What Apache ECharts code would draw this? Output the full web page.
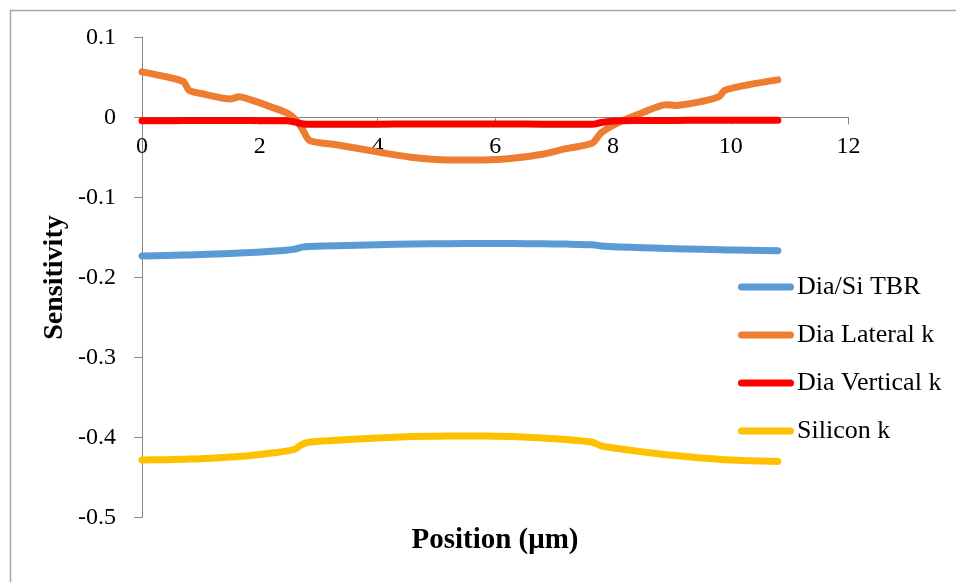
<!DOCTYPE html>
<html>
<head>
<meta charset="utf-8">
<script src="https://cdn.jsdelivr.net/npm/echarts@6/dist/echarts.min.js"></script>
<style>
  html, body { margin: 0; padding: 0; background: #fff; }
  #chart { width: 956px; height: 582px; }
</style>
</head>
<body>
<div id="chart"></div>
<script>
// Sample positions along the line (µm)
const positions = [0, 0.4, 0.7, 0.8, 1.0, 1.5, 1.65, 1.85, 2.2, 2.45, 2.6, 2.72, 2.85, 3.3, 4.0, 4.6,
  5.2, 5.8, 6.3, 6.8, 7.2, 7.65, 7.8, 8.1, 8.5, 8.9, 9.05, 9.5, 9.8, 9.9, 10.3, 10.8];

const seriesNames = ['Dia/Si TBR', 'Dia Lateral k', 'Dia Vertical k', 'Silicon k'];

const diaSiTBR = [-0.173, -0.1725, -0.172, -0.1718, -0.1713, -0.170, -0.1695, -0.1688, -0.1672, -0.1658,
  -0.1645, -0.162, -0.1612, -0.1603, -0.159, -0.1582, -0.1577, -0.1575, -0.1576, -0.1578, -0.1582,
  -0.159, -0.1605, -0.1618, -0.1628, -0.1637, -0.164, -0.1648, -0.1653, -0.1655, -0.166, -0.1665];

const diaLateralK = [0.057, 0.051, 0.045, 0.034, 0.030, 0.023, 0.026, 0.022, 0.013, 0.006,
  -0.002, -0.014, -0.029, -0.034, -0.043, -0.050, -0.053, -0.053, -0.051, -0.046, -0.039,
  -0.032, -0.019, -0.006, 0.006, 0.016, 0.015, 0.020, 0.026, 0.034, 0.041, 0.047];

const diaVerticalK = [-0.0040, -0.0040, -0.0039, -0.0039, -0.0039, -0.0038, -0.0038, -0.0039, -0.0040, -0.0042,
  -0.0058, -0.0078, -0.0085, -0.0084, -0.0083, -0.0082, -0.0082, -0.0082, -0.0082, -0.0083, -0.0084,
  -0.0085, -0.0062, -0.0042, -0.0038, -0.0036, -0.0036, -0.0035, -0.0035, -0.0035, -0.0035, -0.0035];

const siliconK = [-0.428, -0.4277, -0.4272, -0.427, -0.4265, -0.4245, -0.4238, -0.4225, -0.4195, -0.417,
  -0.4145, -0.4085, -0.4055, -0.4035, -0.4005, -0.3988, -0.398, -0.398, -0.3988, -0.4005, -0.4025,
  -0.406, -0.4105, -0.414, -0.418, -0.4215, -0.4225, -0.4255, -0.4272, -0.4278, -0.429, -0.430];

const xTicks = { min: 0, max: 12, interval: 2 };
const yTicks = { min: -0.5, max: 0.1, interval: 0.1 };

const colors = ['#5B9BD5', '#ED7D31', '#FF0000', '#FFC000'];
const values = [diaSiTBR, diaLateralK, diaVerticalK, siliconK];

const serif = '"Liberation Serif", "Times New Roman", serif';
const axisGray = '#868686';

// plot box in pixels
const plot = { left: 142, top: 37.5, right: 107.5, bottom: 64.5 };
const plotHeight = 582 - plot.top - plot.bottom;
// the horizontal axis sits where y = 0
const zeroOffset = -plotHeight * (0 - yTicks.min) / (yTicks.max - yTicks.min);

const chart = echarts.init(document.getElementById('chart'), null, { renderer: 'canvas' });

chart.setOption({
  animation: false,
  backgroundColor: '#ffffff',
  color: colors,
  grid: { left: plot.left, top: plot.top, right: plot.right, bottom: plot.bottom, containLabel: false },
  xAxis: {
    type: 'value',
    position: 'bottom',
    offset: zeroOffset,
    min: xTicks.min, max: xTicks.max, interval: xTicks.interval,
    axisLine: { onZero: false, lineStyle: { color: axisGray, width: 1 } },
    axisTick: { show: true, length: 7, lineStyle: { color: axisGray } },
    axisLabel: { margin: 17, color: '#000', fontFamily: serif, fontSize: 24 },
    splitLine: { show: false }
  },
  yAxis: {
    type: 'value',
    min: yTicks.min, max: yTicks.max, interval: yTicks.interval,
    axisLine: { show: true, onZero: false, lineStyle: { color: axisGray, width: 1 } },
    axisTick: { show: true, length: 8, lineStyle: { color: axisGray } },
    axisLabel: {
      margin: 26, color: '#000', fontFamily: serif, fontSize: 24,
      formatter: v => (Math.abs(v) < 1e-9 ? '0' : (+v.toFixed(1)).toString())
    },
    splitLine: { show: false }
  },
  legend: {
    orient: 'vertical',
    left: 733, top: 269,
    itemWidth: 56, itemHeight: 7, itemGap: 22,
    icon: 'path://M3.5,0H52.5A3.5,3.5,0,0,1,52.5,7H3.5A3.5,3.5,0,0,1,3.5,0Z',
    textStyle: { fontFamily: serif, fontSize: 26, color: '#000', padding: [0, 0, 0, -2] },
    data: seriesNames
  },
  graphic: [
    {
      type: 'rect', silent: true,
      shape: { x: 10.5, y: 10.5, width: 1000, height: 1000 },
      style: { fill: 'none', stroke: '#a6a6a6', lineWidth: 1.5 }
    },
    {
      type: 'text', silent: true,
      x: 495, y: 541,
      style: { text: 'Position (μm)', font: 'bold 29px ' + serif, fill: '#000', textAlign: 'center', textVerticalAlign: 'middle' }
    },
    {
      type: 'text', silent: true,
      x: 55, y: 277.5, rotation: Math.PI / 2,
      style: { text: 'Sensitivity', font: 'bold 28px ' + serif, fill: '#000', textAlign: 'center', textVerticalAlign: 'middle' }
    }
  ],
  series: seriesNames.map((name, i) => ({
    name,
    type: 'line',
    data: positions.map((p, j) => [p, values[i][j]]),
    showSymbol: false,
    symbol: 'none',
    smooth: 0.25,
    lineStyle: { width: 7, color: colors[i], cap: 'round', join: 'round' },
    itemStyle: { color: colors[i] },
    z: 2 + i
  }))
});
</script>
</body>
</html>
